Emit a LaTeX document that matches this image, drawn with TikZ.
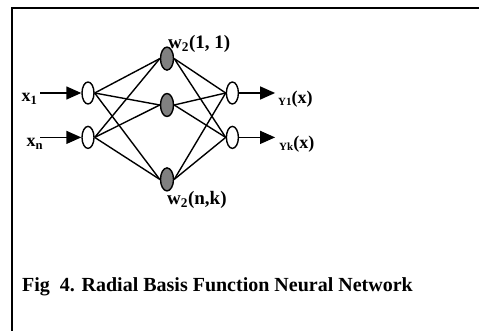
\documentclass[tikz,border=0pt]{standalone}
\usepackage{fontspec}
\setmainfont{Liberation Serif}
\usetikzlibrary{shapes.geometric, arrows.meta, positioning}

\begin{document}
\begin{tikzpicture}[
  x=1pt, y=-1pt,
  neuron/.style={ellipse, draw=black, line width=1.4pt, fill=white,
                 minimum width=12pt, minimum height=22pt, inner sep=0pt},
  hidden/.style={neuron, fill=black!50, minimum width=13pt, minimum height=23pt},
  link/.style={line width=1.4pt, draw=black},
  arrow/.style={-{Triangle[length=15pt, width=13pt]}, line width=1.4pt},
  lbl/.style={font=\fontsize{18}{20}\selectfont\bfseries, inner sep=0pt},
  wlbl/.style={font=\fontsize{19}{21}\selectfont\bfseries, inner sep=0pt}
]
\useasboundingbox (0,0) rectangle (479,331);
\draw[line width=2pt] (11.5,331) -- (11.5,8.5) -- (479,8.5);

% input, hidden and output layers
\node[neuron] (in1) at (88,93) {};
\node[neuron, below=21pt of in1] (in2) {};
\node[hidden] (h2) at (167,105) {};
\node[hidden, above=22pt of h2] (h1) {};
\node[hidden, below=50pt of h2] (h3) {};
\node[neuron, right=131pt of in1] (out1) {};
\node[neuron, below=21pt of out1] (out2) {};

\foreach \i in {in1,in2}
  \foreach \j in {h1,h2,h3}
    \draw[link] (\i.east) -- (\j.west);
\foreach \j in {h1,h2,h3}
  \foreach \k in {out1,out2}
    \draw[link] (\j.east) -- (\k.west);

% inputs and outputs
\coordinate[left=41pt of in1] (src1);
\coordinate[left=41pt of in2] (src2);
\coordinate[right=36pt of out1] (dst1);
\coordinate[right=36pt of out2] (dst2);
\draw[arrow] (src1) -- (in1.west);
\draw[arrow] (src2) -- (in2.west);
\draw[arrow] (out1.east) -- (dst1);
\draw[arrow] (out2.east) -- (dst2);

\node[lbl] (lx1) at (29.5,99) {x\textsubscript{1}};
\node[lbl] (lxn) at (35,144) {x\textsubscript{n}};
\node[lbl, anchor=west] (ly1) at (278,99) {{\fontsize{11}{12}\selectfont\raisebox{-2pt}{Y1}}(x)};
\node[lbl, anchor=west] (lyk) at (279,144) {{\fontsize{11}{12}\selectfont\raisebox{-2pt}{Yk}}(x)};
\node[wlbl, anchor=west] (lw11) at (168,44) {w\textsubscript{2}(1, 1)};
\node[wlbl, anchor=west] (lwnk) at (167,200) {w\textsubscript{2}(n,k)};

\node[anchor=base west, inner sep=0pt, font=\fontsize{20}{24}\selectfont\bfseries]
  (cap) at (22,291) {Fig\ \ 4. Radial Basis Function Neural Network};
\end{tikzpicture}
\end{document}
